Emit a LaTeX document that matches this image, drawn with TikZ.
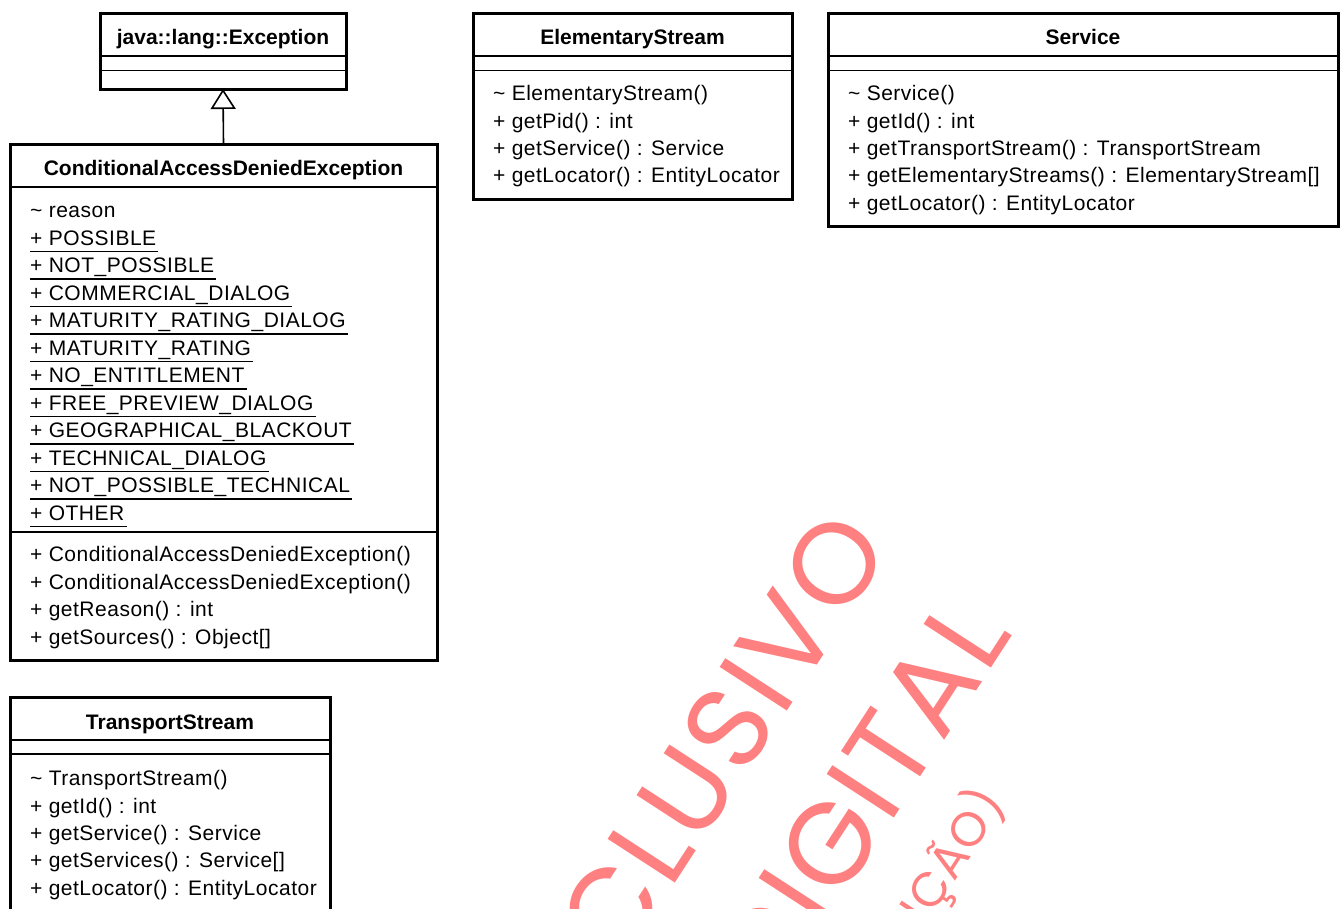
\documentclass[tikz,border=0pt]{standalone}
\usepackage{fontspec}
\setmainfont{Liberation Sans}
\newfontfamily\memfont{Liberation Sans}[LetterSpace=2.4]
\newfontfamily\wmfont{Poppins}[LetterSpace=3]
\usetikzlibrary{arrows.meta}
\definecolor{wmred}{RGB}{255,128,128}
\begin{document}
\begin{tikzpicture}[x=1pt,y=-1pt,
  box/.style={draw, line width=3pt, inner sep=0pt, outer sep=0pt, anchor=north west},
  sepline/.style={line width=1.4pt},
  ttl/.style={font=\fontsize{21}{25}\selectfont\bfseries, inner sep=0pt, anchor=base},
  mem/.style={font=\memfont\fontsize{21}{25}\selectfont, inner sep=0pt, anchor=base west},
  static/.style={mem, append after command={([yshift=-6.5pt]\tikzlastnode.base west) edge[line width=1.4pt] ([xshift=2pt,yshift=-6.5pt]\tikzlastnode.base east)}},
  wm/.style={text=wmred, inner sep=0pt, rotate=57, anchor=base east},
  gen/.style={line width=1.6pt, -{Triangle[open, length=20pt, width=25pt, line width=1.6pt]}}
]
\useasboundingbox (0,0) rectangle (1340,908);
\clip (0,0) rectangle (1340,908);

% java::lang::Exception
\node[box, minimum width=246pt, minimum height=76pt] (exc) at (100,13) {};
\draw[sepline] (100,56) -- (346,56);
\draw[sepline] (100,70.5) -- (346,70.5);
\node[ttl] (excT) at (223,44) {java::lang::Exception};

% ConditionalAccessDeniedException
\node[box, minimum width=427pt, minimum height=516pt] (cade) at (10,144) {};
\draw[sepline] (10,187) -- (437,187);
\draw[sepline] (10,532) -- (437,532);
\node[ttl] (cadeT) at (223.5,175) {ConditionalAccessDeniedException};
\node[mem] (a0) at (30,217.5) {\textasciitilde\ reason};
\node[static] (a1) at (30,245) {+ POSSIBLE};
\node[static] (a2) at (30,272.5) {+ NOT\_POSSIBLE};
\node[static] (a3) at (30,300) {+ COMMERCIAL\_DIALOG};
\node[static] (a4) at (30,327.5) {+ MATURITY\_RATING\_DIALOG};
\node[static] (a5) at (30,355) {+ MATURITY\_RATING};
\node[static] (a6) at (30,382.5) {+ NO\_ENTITLEMENT};
\node[static] (a7) at (30,410) {+ FREE\_PREVIEW\_DIALOG};
\node[static] (a8) at (30,437.5) {+ GEOGRAPHICAL\_BLACKOUT};
\node[static] (a9) at (30,465) {+ TECHNICAL\_DIALOG};
\node[static] (a10) at (30,492.5) {+ NOT\_POSSIBLE\_TECHNICAL};
\node[static] (a11) at (30,520) {+ OTHER};
\node[mem] (m1) at (30,561.5) {+ ConditionalAccessDeniedException()};
\node[mem] (m2) at (30,589) {+ ConditionalAccessDeniedException()};
\node[mem] (m3) at (30,616.5) {+ getReason() : int};
\node[mem] (m4) at (30,644) {+ getSources() : Object[]};

\draw[gen] (cade.north) -- (exc.south);

% ElementaryStream
\node[box, minimum width=319pt, minimum height=186pt] (es) at (473,13) {};
\draw[sepline] (473,56) -- (792,56);
\draw[sepline] (473,70.5) -- (792,70.5);
\node[ttl] (esT) at (632.5,44) {ElementaryStream};
\node[mem] (e1) at (493,100.5) {\textasciitilde\ ElementaryStream()};
\node[mem] (e2) at (493,128) {+ getPid() : int};
\node[mem] (e3) at (493,155) {+ getService() : Service};
\node[mem] (e4) at (493,182.5) {+ getLocator() : EntityLocator};

% Service
\node[box, minimum width=510pt, minimum height=213pt] (sv) at (828,13) {};
\draw[sepline] (828,56) -- (1338,56);
\draw[sepline] (828,70.5) -- (1338,70.5);
\node[ttl] (svT) at (1083,44) {Service};
\node[mem] (s1) at (848,100.5) {\textasciitilde\ Service()};
\node[mem] (s2) at (848,128) {+ getId() : int};
\node[mem] (s3) at (848,155) {+ getTransportStream() : TransportStream};
\node[mem] (s4) at (848,182.5) {+ getElementaryStreams() : ElementaryStream[]};
\node[mem] (s5) at (848,210) {+ getLocator() : EntityLocator};

% TransportStream
\node[box, minimum width=320pt, minimum height=240pt] (ts) at (10,697) {};
\draw[sepline] (10,740) -- (330,740);
\draw[sepline] (10,754) -- (330,754);
\node[ttl] (tsT) at (170,729) {TransportStream};
\node[mem] (t1) at (30,785.5) {\textasciitilde\ TransportStream()};
\node[mem] (t2) at (30,813) {+ getId() : int};
\node[mem] (t3) at (30,840) {+ getService() : Service};
\node[mem] (t4) at (30,867.5) {+ getServices() : Service[]};
\node[mem] (t5) at (30,895) {+ getLocator() : EntityLocator};

% watermark
\node[wm, font=\wmfont\fontsize{115}{115}\selectfont] (w1) at (893,548) {EXCLUSIVO};
\node[wm, font=\wmfont\fontsize{115}{115}\selectfont] (w2) at (1014,634) {DIGITAL};
\node[wm, font=\wmfont\fontsize{48}{48}\selectfont] (w3) at (1006,803) {(REPRODUÇÃO)};
\end{tikzpicture}
\end{document}
